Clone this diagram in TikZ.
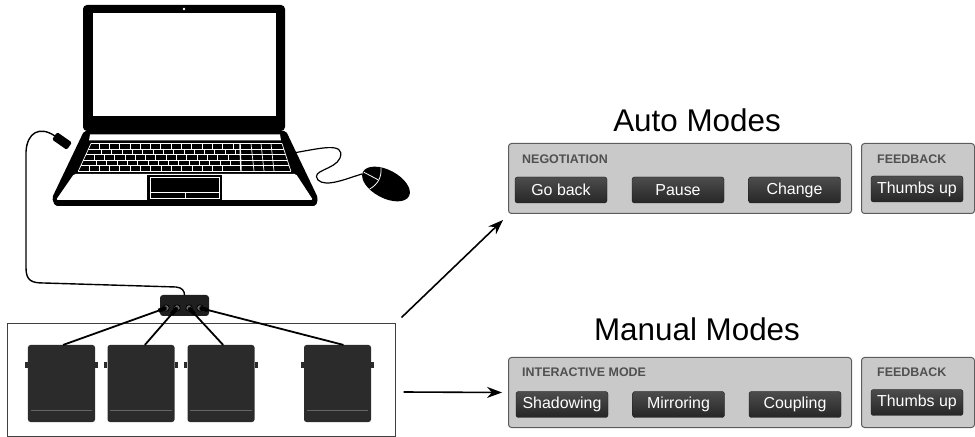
\documentclass[tikz,border=0pt]{standalone}
\usepackage{fontspec}
\setmainfont{Liberation Sans}
\usetikzlibrary{arrows.meta,calc}
\definecolor{pedalgray}{HTML}{2B2B2B}
\definecolor{panelfill}{HTML}{C9C9C9}
\definecolor{paneldraw}{HTML}{5C5C5C}
\definecolor{btnfill}{HTML}{363636}
\definecolor{labelgray}{HTML}{505050}
\newcommand{\fs}[1]{\fontsize{#1}{#1}\selectfont}

\begin{document}
\begin{tikzpicture}[x=1bp,y=-1bp,
  cable/.style={black, line width=1.4bp, line cap=round},
  key/.style={white, line width=0.7bp},
  pedal/.style={fill=pedalgray, rounded corners=2.5bp, minimum width=67bp, minimum height=77bp, inner sep=0pt},
  port/.style={circle, fill=black!60, draw=black, line width=0.8bp, minimum size=6.5bp, inner sep=0pt},
  panel/.style={draw=paneldraw, fill=panelfill, line width=1bp, rounded corners=3bp, minimum height=70bp, inner sep=0pt, anchor=north west},
  btn/.style={draw=black!90, top color=black!70, bottom color=black!85, text=white, rounded corners=2.5bp,
    minimum width=92bp, minimum height=26bp, inner sep=0pt, font=\fs{16}},
  grouplabel/.style={anchor=base west, text=labelgray, font=\fs{12.5}\bfseries, inner sep=0pt},
  title/.style={anchor=base, font=\fs{31.5}, inner sep=0pt},
  arrow/.style={-{Stealth[length=15bp,width=11bp]}, line width=1.6bp}]
\useasboundingbox (0,0) rectangle (975,437);

% laptop lid and screen
\fill[black, rounded corners=4bp] (83,5) rectangle (285,131);
\fill[white] (93,13) rectangle (276,116);
\fill[white] (184,9) circle (1.3bp);
% laptop base
\fill[black, rounded corners=2bp] (84,131) -- (286,131) -- (318,198) -- (316,206) -- (55,206) -- (52,198) -- cycle;
\fill[white] (90,134.5) -- (280,134.5) -- (281,140.5) -- (89,140.5) -- cycle;
\fill[white, rounded corners=1.5bp] (74,174) -- (296,174) -- (313,200) -- (56,200) -- cycle;
% keyboard
\foreach \r in {0,...,5}{
  \pgfmathsetmacro{\yy}{143.5+\r*5.5}
  \draw[key] ({91-(\yy-143.5)*0.46},\yy) -- ({282+(\yy-143.5)*0.32},\yy);
}
\draw[key] (91,143.5) -- (78.4,171);
\draw[key] (282,143.5) -- (290.8,171);
\foreach \r in {0,...,4}{
  \pgfmathsetmacro{\ya}{143.5+\r*5.5}
  \pgfmathsetmacro{\xa}{91-(\ya+2.75-143.5)*0.46+mod(\r,2)*5}
  \foreach \k in {1,...,14}
    \draw[key] ({\xa+\k*10.3-1},\ya) -- ({\xa+\k*10.3-1},\ya+5.5);
}
\draw[white, line width=1.4bp] (240,143.5) -- (241,171);
\foreach \x in {251,261,271}
  \draw[key] (\x,143.5) -- (\x+3,171);
% touchpad
\fill[black] (147,175) rectangle (222,201);
\draw[white, line width=0.6bp] (150,177.5) rectangle (219,198.5);
\draw[white, line width=0.6bp] (150,192.5) -- (219,192.5);
\draw[white, line width=0.6bp] (185,192.5) -- (185,198.5);

% mouse and its cable
\draw[cable, line width=1.2bp] (293,153) .. controls (318,149) and (346,141) .. (340,158)
  .. controls (335,170) and (310,170) .. (318,180) .. controls (326,188) and (348,178) .. (362,174);
\begin{scope}[shift={(386,184)}, rotate=-28]
  \fill[black] (0,0) ellipse [x radius=26bp, y radius=14bp];
  \draw[white, line width=0.8bp] (-12,-12) .. controls (-7,-4) and (-7,4) .. (-12,12);
  \draw[white, line width=0.8bp] (-25,0) -- (-9,0);
\end{scope}

% foot pedals
\node[draw=black!75, line width=1bp, minimum width=387bp, minimum height=112bp, inner sep=0pt] (pedals) at (201.5,380) {};
\node[fill=black!88, rounded corners=3bp, minimum width=49bp, minimum height=21bp, inner sep=0pt] (hub) at (184.5,305.5) {};
\node[fill=black, rotate=-35, rounded corners=1.5bp, minimum width=18bp, minimum height=9bp, inner sep=0pt] (usb) at (62,141) {};
\draw[cable] (usb.west) .. controls (40,126) and (27,132) .. (26,152) -- (26,268)
  .. controls (26,281) and (32,283) .. (44,283) -- (176,287) .. controls (182,287.5) and (184.5,291) .. (hub.north);
\foreach \i/\x in {1/166,2/177,3/189,4/200}
  \node[port] (h\i) at (\x,308) {};
\foreach \i/\x in {1/61.5,2/141,3/221,4/337.5}{
  \node[pedal] (p\i) at (\x,383.5) {};
  \fill[pedalgray] ([shift={(-3,-21)}]p\i.west) rectangle ([shift={(0,-15)}]p\i.west);
  \fill[pedalgray] ([shift={(0,-21)}]p\i.east) rectangle ([shift={(3,-15)}]p\i.east);
  \draw[black!60, line width=0.8bp] ([shift={(3,-12)}]p\i.south west) -- ([shift={(-3,-12)}]p\i.south east);
}
\foreach \i/\dx in {1/2,2/4,3/2,4/5.5}{
  \draw[cable, line width=1.8bp] (h\i.center) -- ([xshift=\dx]p\i.north);
  \draw[black, line width=4bp] (h\i.center) -- ($(h\i.center)!8bp!([xshift=\dx]p\i.north)$);
}

% mode panels
\node[title] (autotitle) at (697,132) {Auto Modes};
\node[panel, minimum width=343bp] (autoneg) at (508,143) {};
\node[panel, minimum width=113bp] (autofb) at (861,143) {};
\node[grouplabel] at (522,164) {NEGOTIATION};
\node[grouplabel] at (877,164) {FEEDBACK};
\node[btn] (goback) at (561,190) {Go back};
\node[btn] (pause) at (678,190) {Pause};
\node[btn] (change) at (794.5,190) {Change};
\node[btn] (autothumbs) at (917,189) {Thumbs up};

\node[title] (mantitle) at (697,341) {Manual Modes};
\node[panel, minimum width=343bp] (manneg) at (508,357) {};
\node[panel, minimum width=113bp] (manfb) at (861,357) {};
\node[grouplabel] at (522,377) {INTERACTIVE MODE};
\node[grouplabel] at (877,377) {FEEDBACK};
\node[btn] (shadowing) at (562,404.5) {Shadowing};
\node[btn] (mirroring) at (678.5,404.5) {Mirroring};
\node[btn] (coupling) at (795,404.5) {Coupling};
\node[btn] (manthumbs) at (917,402.5) {Thumbs up};

\draw[arrow] ([shift={(6,-6)}]pedals.north east) -- ([shift={(-5,6)}]autoneg.south west);
\draw[arrow] ([shift={(8,12)}]pedals.east) -- ([xshift=-6]manneg.west);
\end{tikzpicture}
\end{document}
